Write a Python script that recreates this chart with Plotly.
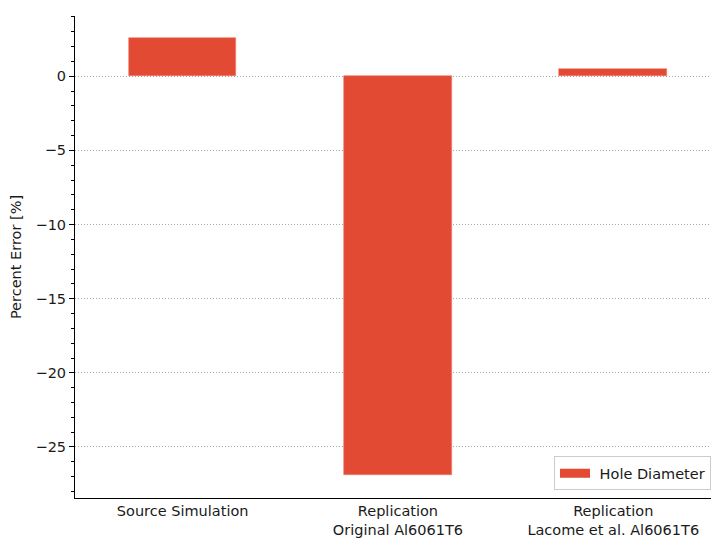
import plotly.graph_objects as go

# Percent error of hole diameter for each simulation case
categories = [
    "Source Simulation",
    "Replication<br>Original Al6061T6",
    "Replication<br>Lacome et al. Al6061T6",
]
hole_diameter_error = [2.61, -26.92, 0.50]
series_name = "Hole Diameter"

bar_color = "#E24A33"
font_family = "DejaVu Sans"
font_size = 14.5
text_color = "#1a1a1a"

fig = go.Figure()
fig.add_trace(
    go.Bar(
        x=list(range(len(categories))),
        y=hole_diameter_error,
        name=series_name,
        width=0.5,
        marker=dict(color=bar_color, line=dict(color="#EE7A66", width=0.6)),
        showlegend=False,
    )
)
# Legend entry drawn as a thick line so the swatch is a wide rectangle
fig.add_trace(
    go.Scatter(
        x=[None],
        y=[None],
        mode="lines",
        name="\u00a0" + series_name,
        line=dict(color=bar_color, width=9),
        showlegend=True,
    )
)

fig.update_layout(
    width=711,
    height=540,
    margin=dict(l=75, r=0, t=16, b=42),
    paper_bgcolor="white",
    plot_bgcolor="white",
    font=dict(family=font_family, size=font_size, color=text_color),
    showlegend=True,
    legend=dict(
        x=1.0,
        xanchor="right",
        y=0.016,
        yanchor="bottom",
        bgcolor="rgba(255,255,255,0.8)",
        bordercolor="#cccccc",
        borderwidth=1,
        font=dict(size=font_size, color=text_color),
        itemwidth=30,
    ),
    bargap=0,
)

fig.update_xaxes(
    range=[-0.5, 2.454],
    tickmode="array",
    tickvals=list(range(len(categories))),
    ticktext=categories,
    ticks="",
    showgrid=False,
    zeroline=False,
    showline=True,
    linecolor="black",
    linewidth=1,
    automargin=False,
    ticklabelstandoff=0,
    tickfont=dict(size=font_size, color=text_color),
)

fig.update_yaxes(
    range=[-28.44, 4.06],
    tickmode="linear",
    tick0=0,
    dtick=5,
    ticks="outside",
    ticklen=5,
    tickwidth=1,
    tickcolor="black",
    minor=dict(dtick=1, tick0=0, ticks="outside", ticklen=3, tickcolor="black", tickwidth=0.8, showgrid=False),
    showgrid=True,
    gridcolor="#a8a8a8",
    gridwidth=0.8,
    griddash="1px,2px",
    zeroline=False,
    showline=True,
    linecolor="black",
    linewidth=1,
    automargin=False,
    tickfont=dict(size=font_size, color=text_color),
    title=dict(text="Percent Error [%]", font=dict(size=font_size, color=text_color), standoff=10),
)

fig.write_html("out.html")
